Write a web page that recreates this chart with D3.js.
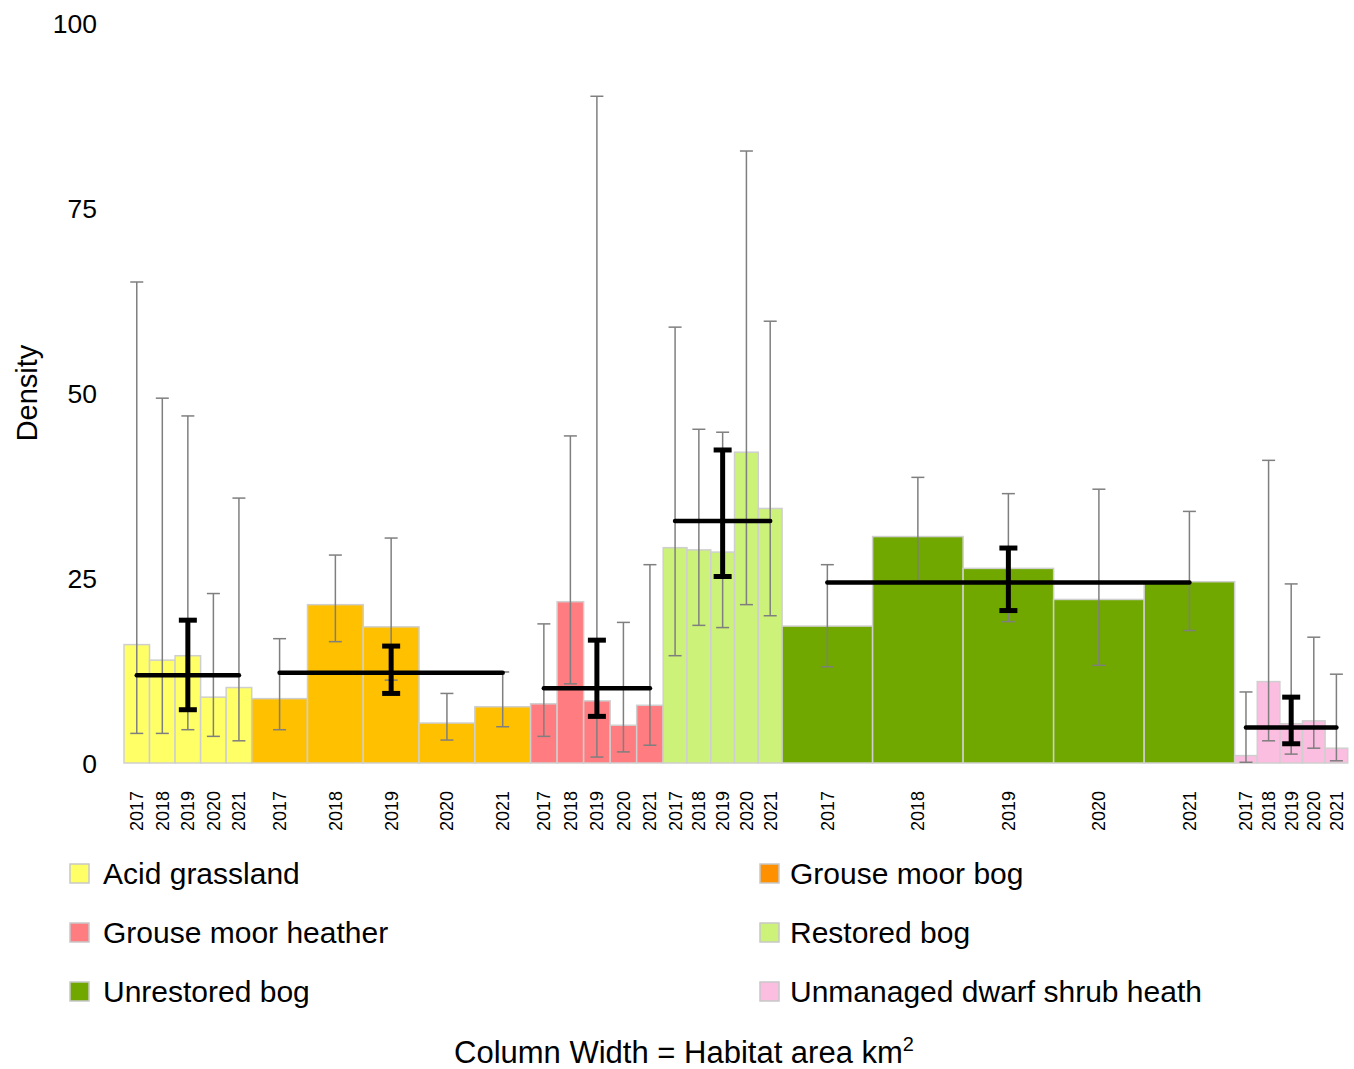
<!DOCTYPE html>
<html>
<head>
<meta charset="utf-8">
<script src="https://cdn.jsdelivr.net/npm/d3@7"></script>
<style>
  body { margin: 0; background: #fff; }
  svg { font-family: "Liberation Sans", Arial, sans-serif; }
</style>
</head>
<body>
<div id="chart"></div>
<script>
// habitats, areas (column widths) and survey years
var habitats = ["Acid grassland", "Grouse moor bog", "Grouse moor heather", "Restored bog", "Unrestored bog", "Unmanaged dwarf shrub heath"];
var areas = [2.61, 5.70, 2.71, 2.43, 9.25, 2.31];
var years = ["2017", "2018", "2019", "2020", "2021"];
var barColors = ["#ffff66", "#ffc000", "#ff7c80", "#ccf27a", "#70a800", "#fbbde0"];
var legendColors = ["#ffff66", "#ff9000", "#ff7c80", "#ccf27a", "#70a800", "#fbbde0"];

// density per year (rows = habitats)
var density = [
  [16.0, 13.9, 14.5, 8.9, 10.2],
  [8.7, 21.4, 18.4, 5.4, 7.6],
  [8.0, 21.8, 8.4, 5.1, 7.8],
  [29.1, 28.8, 28.5, 42.0, 34.4],
  [18.5, 30.6, 26.3, 22.1, 24.5],
  [1.0, 11.0, 5.3, 5.7, 2.0]
];
var errLow = [
  [4.0, 4.0, 4.5, 3.6, 3.0],
  [4.5, 16.4, 11.2, 3.1, 4.9],
  [3.6, 10.7, 0.8, 1.5, 2.4],
  [14.5, 18.6, 18.3, 21.4, 19.9],
  [13.0, 24.5, 19.1, 13.2, 17.9],
  [0.1, 3.0, 1.2, 2.0, 0.3]
];
var errHigh = [
  [65.0, 49.3, 46.9, 22.9, 35.8],
  [16.8, 28.1, 30.4, 9.4, 12.3],
  [18.8, 44.2, 90.1, 19.0, 26.8],
  [58.9, 45.1, 44.7, 82.7, 59.7],
  [26.8, 38.6, 36.4, 37.0, 34.0],
  [9.6, 40.9, 24.2, 17.0, 12.0]
];
// habitat mean over years with its interval
var meanDensity = [11.85, 12.2, 10.1, 32.7, 24.4, 4.8];
var meanLow = [7.2, 9.4, 6.3, 25.2, 20.6, 2.6];
var meanHigh = [19.3, 15.8, 16.6, 42.3, 29.05, 8.9];

var W = 1354, H = 1069;
var svg = d3.select("#chart").append("svg").attr("width", W).attr("height", H);

var y = d3.scaleLinear().domain([0, 100]).range([763, 23]);
var x = d3.scaleLinear().domain([0, d3.sum(areas)]).range([124, 1347.7]);

// build bar table
var bars = [];
var start = 0;
habitats.forEach(function(h, i){
  var w = areas[i] / years.length;
  years.forEach(function(yr, j){
    bars.push({hab: i, year: yr, x0: start + j * w, x1: start + (j + 1) * w,
      v: density[i][j], lo: errLow[i][j], hi: errHigh[i][j]});
  });
  start += areas[i];
});

// y tick labels
svg.selectAll(".ytick").data([0, 25, 50, 75, 100]).enter().append("text")
  .attr("class", "ytick")
  .attr("x", 97).attr("y", function(d){ return y(d); })
  .attr("dy", "0.36em")
  .attr("text-anchor", "end")
  .style("font-size", "26.5px")
  .text(function(d){ return d; });

svg.append("text")
  .attr("transform", "translate(37," + y(50) + ") rotate(-90)")
  .attr("text-anchor", "middle")
  .style("font-size", "29px")
  .text("Density");

// columns
svg.selectAll(".bar").data(bars).enter().append("rect")
  .attr("class", "bar")
  .attr("x", function(d){ return x(d.x0); })
  .attr("width", function(d){ return x(d.x1) - x(d.x0); })
  .attr("y", function(d){ return y(d.v); })
  .attr("height", function(d){ return y(0) - y(d.v); })
  .style("fill", function(d){ return barColors[d.hab]; })
  .style("stroke", "#cfcfcf")
  .style("stroke-width", 1.5);

// per year error bars
var cx = function(d){ return (x(d.x0) + x(d.x1)) / 2; };
var eb = svg.selectAll(".err").data(bars).enter().append("g").attr("class", "err")
  .style("stroke", "#7f7f7f").style("stroke-width", 1.5);
eb.append("line")
  .attr("x1", cx).attr("x2", cx)
  .attr("y1", function(d){ return y(d.hi); })
  .attr("y2", function(d){ return y(d.lo); });
eb.append("line")
  .attr("x1", function(d){ return cx(d) - 6.5; }).attr("x2", function(d){ return cx(d) + 6.5; })
  .attr("y1", function(d){ return y(d.hi); }).attr("y2", function(d){ return y(d.hi); });
eb.append("line")
  .attr("x1", function(d){ return cx(d) - 6.5; }).attr("x2", function(d){ return cx(d) + 6.5; })
  .attr("y1", function(d){ return y(d.lo); }).attr("y2", function(d){ return y(d.lo); });

// habitat means: line from first to last column centre, thick interval at centre
habitats.forEach(function(h, i){
  var hb = bars.filter(function(b){ return b.hab == i; });
  var first = cx(hb[0]), last = cx(hb[hb.length - 1]), mid = cx(hb[2]);
  svg.append("line")
    .attr("x1", first).attr("x2", last)
    .attr("y1", y(meanDensity[i])).attr("y2", y(meanDensity[i]))
    .style("stroke", "#000").style("stroke-width", 4.5).style("stroke-linecap", "round");
  svg.append("line")
    .attr("x1", mid).attr("x2", mid)
    .attr("y1", y(meanHigh[i])).attr("y2", y(meanLow[i]))
    .style("stroke", "#000").style("stroke-width", 5);
  [meanHigh[i], meanLow[i]].forEach(function(v){
    svg.append("line")
      .attr("x1", mid - 9).attr("x2", mid + 9)
      .attr("y1", y(v)).attr("y2", y(v))
      .style("stroke", "#000").style("stroke-width", 5);
  });
});

// year labels
svg.selectAll(".xlab").data(bars).enter().append("text")
  .attr("class", "xlab")
  .attr("transform", function(d){ return "translate(" + cx(d) + ",791) rotate(-90)"; })
  .attr("text-anchor", "end")
  .attr("dy", "0.36em")
  .style("font-size", "18px")
  .text(function(d){ return d.year; });

// legend
var legend = svg.selectAll(".leg").data(habitats).enter().append("g")
  .attr("class", "leg")
  .attr("transform", function(d, i){
    return "translate(" + (i % 2 == 0 ? 70 : 760) + "," + (864 + Math.floor(i / 2) * 59) + ")";
  });
legend.append("rect")
  .attr("width", 19).attr("height", 19)
  .style("fill", function(d, i){ return legendColors[i]; })
  .style("stroke", "#c8c8c8").style("stroke-width", 1.5);
legend.append("text")
  .attr("x", function(d, i){ return i % 2 == 0 ? 33 : 30; })
  .attr("y", 20)
  .style("font-size", "30px")
  .text(function(d){ return d; });

var foot = svg.append("text")
  .attr("x", 684).attr("y", 1063)
  .attr("text-anchor", "middle")
  .style("font-size", "31px");
foot.append("tspan").text("Column Width = Habitat area km");
foot.append("tspan").attr("dy", "-12").style("font-size", "20px").text("2");
</script>
</body>
</html>
